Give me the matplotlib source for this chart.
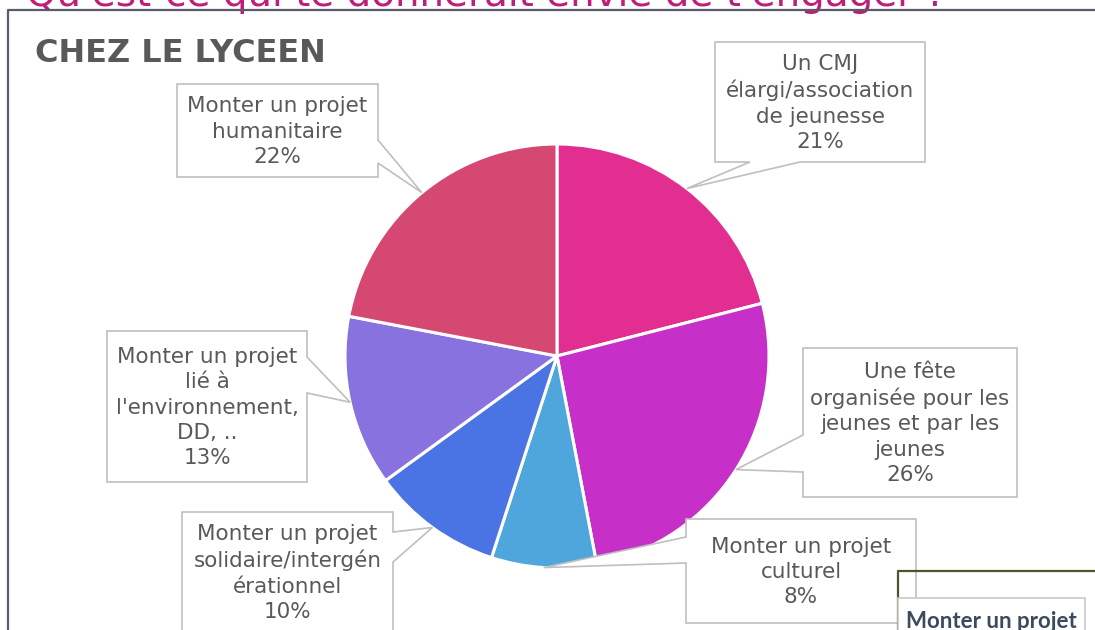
import matplotlib.pyplot as plt
import numpy as np
from matplotlib.patches import Polygon, Rectangle

W, H = 1095, 630

categories = [
    "Un CMJ\nélargi/association\nde jeunesse",
    "Une fête\norganisée pour les\njeunes et par les\njeunes",
    "Monter un projet\nculturel",
    "Monter un projet\nsolidaire/intergén\nérationnel",
    "Monter un projet\nlié à\nl'environnement,\nDD, ..",
    "Monter un projet\nhumanitaire",
]
values = [21, 26, 8, 10, 13, 22]
colors = ["#E22E91", "#C62FC8", "#4FA6DC", "#4A74E4", "#8872E0", "#D44872"]

# callout boxes in pixels: (left, top, right, bottom), side with the pointer, pointer base span
boxes = [
    ((715, 42, 925, 162), "bottom", (750, 800)),
    ((803, 348, 1017, 497), "left", (435, 472)),
    ((686, 519, 916, 623), "left", (537, 563)),
    ((182, 512, 393, 632), "right", (532, 562)),
    ((107, 331, 307, 482), "right", (357, 393)),
    ((177, 84, 378, 177), "right", (140, 163)),
]

cx, cy, R = 557, 356, 212
TXT = "#595959"


def px(x, y):
    return (x, H - y)


fig = plt.figure(figsize=(W / 100, H / 100), dpi=100)
ax = fig.add_axes([0, 0, 1, 1])

wedges, _ = ax.pie(values, colors=colors, startangle=90, counterclock=False,
                   center=px(cx, cy), radius=R,
                   wedgeprops=dict(edgecolor="white", linewidth=2.2))
ax.set_xlim(0, W)
ax.set_ylim(0, H)
ax.set_aspect("equal")
ax.axis("off")

# callouts with a pointer to the middle of each slice
for w, label, v, (rect, side, base) in zip(wedges, categories, values, boxes):
    mid = np.deg2rad((w.theta1 + w.theta2) / 2)
    tip = (cx + R * np.cos(mid), cy - R * np.sin(mid))
    l, t, r, b = rect
    b0, b1 = base
    if side == "bottom":
        pts = [(l, t), (r, t), (r, b), (b1, b), tip, (b0, b), (l, b)]
    elif side == "left":
        pts = [(l, t), (r, t), (r, b), (l, b), (l, b1), tip, (l, b0)]
    else:
        pts = [(l, t), (r, t), (r, b0), tip, (r, b1), (r, b), (l, b)]
    ax.add_patch(Polygon([px(*p) for p in pts], closed=True, facecolor="white",
                         edgecolor="#BFBFBF", linewidth=1.2, zorder=3))
    ax.text(*px((l + r) / 2, (t + b) / 2 + 1), f"{label}\n{v}%", ha="center", va="center",
            fontsize=15.5, color=TXT, linespacing=1.33, zorder=4)

# frame and headings
ax.plot(*zip(px(8, 640), px(8, 10), px(1100, 10)), color="#5B5B6B", lw=1.6,
        clip_on=False, zorder=5)
ax.text(*px(26, 6), "Qu'est-ce qui te donnerait envie de t'engager ?", fontsize=28,
        color="#BE1E7A", va="baseline", ha="left")
ax.text(*px(35, 62), "CHEZ LE LYCEEN", fontsize=23, fontweight="bold", color=TXT,
        va="baseline", ha="left")

# next panel peeking in at the bottom right
ax.plot(*zip(px(898, 640), px(898, 571), px(1100, 571)), color="#4F5330", lw=1.6,
        clip_on=False, zorder=5)
ax.add_patch(Rectangle(px(898, 640), 187, 42, facecolor="white", edgecolor="#C8C8C8",
                       linewidth=1.2, zorder=6))
ax.text(*px(906, 628), "Monter un projet", fontsize=16, fontweight="bold",
        color="#3B4A5E", family=["Lato", "DejaVu Sans"], va="baseline", ha="left", zorder=7)

fig.savefig("out.png", dpi=100)
